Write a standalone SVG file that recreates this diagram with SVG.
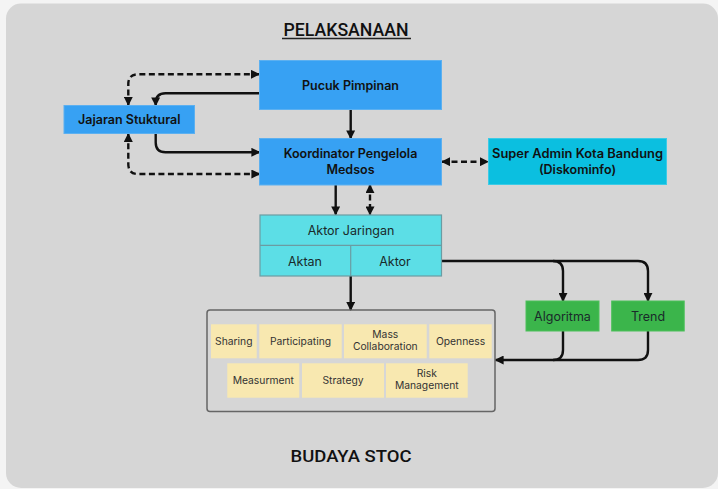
<svg xmlns="http://www.w3.org/2000/svg" width="718" height="489" viewBox="0 0 718 489">
  <defs>
    <marker id="arrow" viewBox="0 0 10 10" refX="9" refY="5" markerWidth="9" markerHeight="9" markerUnits="userSpaceOnUse" orient="auto-start-reverse">
      <path d="M0,0 L10,5 L0,10 z" fill="#111"/>
    </marker>
    <style>
      .panel { fill: #d6d6d6; }
      .blue { fill: #37a1f3; stroke: #5cb0f0; stroke-width: 1; }
      .sky { fill: #0bbfe0; stroke: #3ccbe6; stroke-width: 1; }
      .cyan { fill: #5cdee6; stroke: #6b9ca2; stroke-width: 1.2; }
      .green { fill: #3bb54b; stroke: #4cc05a; stroke-width: 1; }
      .yellow { fill: #f8e8b0; }
      .frame { fill: none; stroke: #666; stroke-width: 1.5; }
      .bold { font-family: Inter, "Noto Sans", sans-serif; font-weight: 600; font-size: 12.5px; fill: #111; text-anchor: middle; }
      .reg { font-family: Inter, "Noto Sans", sans-serif; font-weight: 400; font-size: 12.5px; fill: #1a2a2a; text-anchor: middle; }
      .small { font-family: Inter, "Noto Sans", sans-serif; font-weight: 400; font-size: 10.3px; fill: #333; text-anchor: middle; }
      .head { font-family: Roboto, "Liberation Sans", sans-serif; font-weight: 500; fill: #111; text-anchor: middle; }
      .line { fill: none; stroke: #111; stroke-width: 2.4; }
      .dash { stroke-dasharray: 6 3.5; }
    </style>
  </defs>

  <!-- page and grey panel -->
  <rect width="718" height="489" fill="#f4f4f4"/>
  <rect class="panel" x="6" y="3.5" width="712" height="484.5" rx="15"/>

  <!-- headings -->
  <text class="head" x="346" y="36" font-size="18" textLength="125" lengthAdjust="spacingAndGlyphs">PELAKSANAAN</text>
  <line x1="282" y1="38.5" x2="411" y2="38.5" stroke="#222" stroke-width="1.6"/>
  <text class="head" x="351" y="462" font-size="16.5" font-weight="600" textLength="121" lengthAdjust="spacingAndGlyphs">BUDAYA STOC</text>

  <!-- connectors -->
  <g id="connectors">
    <path class="line dash" d="M128.3,105 V84 Q128.3,74.3 138,74.3 H259" marker-start="url(#arrow)" marker-end="url(#arrow)"/>
    <path class="line" d="M259,93.3 H165.5 Q155.7,93.3 155.7,103 V105.5" marker-end="url(#arrow)"/>
    <path class="line" d="M155.7,133.5 V142.5 Q155.7,152.3 165.5,152.3 H259.5" marker-end="url(#arrow)"/>
    <path class="line dash" d="M128.3,133.8 V164 Q128.3,174 138,174 H259.5" marker-start="url(#arrow)" marker-end="url(#arrow)"/>
    <path class="line" d="M350.7,109.5 V138.5" marker-end="url(#arrow)"/>
    <path class="line dash" d="M442,161.7 H488" marker-start="url(#arrow)" marker-end="url(#arrow)"/>
    <path class="line" d="M335.7,185 V214.5" marker-end="url(#arrow)"/>
    <path class="line dash" d="M370,185 V214.5" marker-start="url(#arrow)" marker-end="url(#arrow)"/>
    <path class="line" d="M350.7,276 V310" marker-end="url(#arrow)"/>
    <path class="line" d="M442,261 H638 Q648,261 648,271 V301" marker-end="url(#arrow)"/>
    <path class="line" d="M553,261 Q563,261 563,271 V301" marker-end="url(#arrow)"/>
    <path class="line" d="M648,331 V350 Q648,360 638,360 H495.5" marker-end="url(#arrow)"/>
    <path class="line" d="M563,331 V350 Q563,360 553,360"/>
  </g>

  <g id="pucuk-pimpinan">
    <rect class="blue" x="259.5" y="60.5" width="182" height="49"/>
    <text class="bold" x="350.5" y="90">Pucuk Pimpinan</text>
  </g>

  <g id="jajaran-stuktural">
    <rect class="blue" x="64" y="105.5" width="130.5" height="28"/>
    <text class="bold" x="129.3" y="124">Jajaran Stuktural</text>
  </g>

  <g id="koordinator">
    <rect class="blue" x="259.5" y="138.5" width="182" height="46.5"/>
    <text class="bold" x="350.5" y="158">Koordinator Pengelola</text>
    <text class="bold" x="350.5" y="173.5">Medsos</text>
  </g>

  <g id="super-admin">
    <rect class="sky" x="488.5" y="138.5" width="178" height="46"/>
    <text class="bold" x="577.5" y="158" textLength="171" lengthAdjust="spacingAndGlyphs">Super Admin Kota Bandung</text>
    <text class="bold" x="577.5" y="173.5">(Diskominfo)</text>
  </g>

  <g id="aktor-jaringan">
    <rect class="cyan" x="260" y="215" width="181.5" height="61"/>
    <line x1="260" y1="245.3" x2="441.5" y2="245.3" stroke="#6b9ca2" stroke-width="1.2"/>
    <line x1="350.7" y1="245.3" x2="350.7" y2="276" stroke="#6b9ca2" stroke-width="1.2"/>
    <text class="reg" x="351" y="235">Aktor Jaringan</text>
    <text class="reg" x="305" y="266">Aktan</text>
    <text class="reg" x="395" y="266">Aktor</text>
  </g>

  <g id="algoritma">
    <rect class="green" x="526" y="301" width="73" height="30"/>
    <text class="reg" x="562.5" y="320.5" fill="#111">Algoritma</text>
  </g>

  <g id="trend">
    <rect class="green" x="611.7" y="301" width="72.5" height="30"/>
    <text class="reg" x="648" y="320.5" fill="#111">Trend</text>
  </g>

  <g id="budaya-stoc">
    <rect class="frame" x="207" y="310" width="288" height="101.5" rx="3"/>
    <rect class="yellow" x="211" y="324.3" width="45.7" height="34"/>
    <text class="small" x="233.8" y="344.5">Sharing</text>
    <rect class="yellow" x="259.3" y="324.3" width="82.4" height="34"/>
    <text class="small" x="300.5" y="344.5">Participating</text>
    <rect class="yellow" x="344" y="324.3" width="82.7" height="34"/>
    <text class="small" x="385.3" y="338">Mass</text>
    <text class="small" x="385.3" y="350">Collaboration</text>
    <rect class="yellow" x="429.3" y="324.3" width="62.4" height="34"/>
    <text class="small" x="460.5" y="344.5">Openness</text>
    <rect class="yellow" x="227.3" y="363.3" width="72" height="34.4"/>
    <text class="small" x="263.3" y="383.5">Measurment</text>
    <rect class="yellow" x="302" y="363.3" width="82" height="34.4"/>
    <text class="small" x="343" y="383.5">Strategy</text>
    <rect class="yellow" x="386" y="363.3" width="81.7" height="34.4"/>
    <text class="small" x="426.8" y="377">Risk</text>
    <text class="small" x="426.8" y="389">Management</text>
  </g>
</svg>
